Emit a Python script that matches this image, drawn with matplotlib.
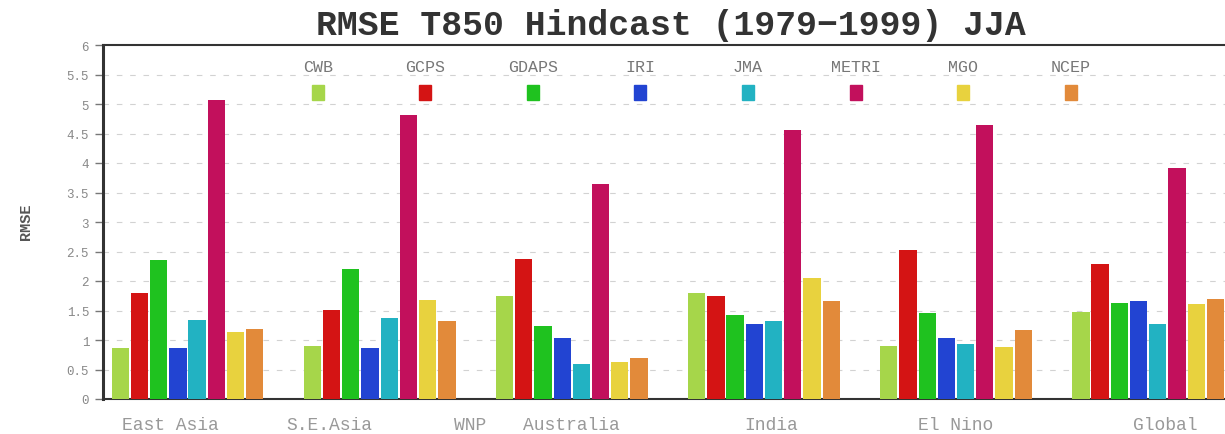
import matplotlib
matplotlib.use("Agg")
import matplotlib.pyplot as plt
import numpy as np

regions = ["East Asia", "S.E.Asia", "Australia", "India", "El Nino", "Global"]
xlabels = ["East Asia", "S.E.Asia", "WNP", "Australia", "India", "El Nino", "Global"]
models = ["CWB", "GCPS", "GDAPS", "IRI", "JMA", "METRI", "MGO", "NCEP"]

CWB   = [0.86, 0.89, 1.75, 1.79, 0.89, 1.48]
GCPS  = [1.80, 1.51, 2.37, 1.74, 2.53, 2.29]
GDAPS = [2.36, 2.20, 1.23, 1.42, 1.46, 1.63]
IRI   = [0.86, 0.86, 1.03, 1.27, 1.03, 1.66]
JMA   = [1.34, 1.38, 0.59, 1.32, 0.93, 1.27]
METRI = [5.07, 4.81, 3.64, 4.56, 4.64, 3.92]
MGO   = [1.13, 1.68, 0.63, 2.05, 0.88, 1.61]
NCEP  = [1.19, 1.33, 0.69, 1.66, 1.17, 1.69]
series = [CWB, GCPS, GDAPS, IRI, JMA, METRI, MGO, NCEP]

colors = ["#a6d64a", "#d41414", "#1fc21f", "#2244d2", "#22b2c2",
          "#c2105c", "#e8d23e", "#e28a3a"]

# layout (label positions in slot units)
xlabel_pos = [2.6, 10.9, 18.2, 23.5, 33.9, 43.5, 54.4]
slots_per_group = 10
MONO = "Liberation Mono"

fig = plt.figure(figsize=(12.25, 4.35), dpi=100)
ax = fig.add_axes([103/1225, 35/435, 1 - 103/1225, (400-46)/435])

for s, (vals, col) in enumerate(zip(series, colors)):
    x = np.arange(len(regions)) * slots_per_group + s
    ax.bar(x, vals, width=0.9, color=col, zorder=3)

ax.set_xlim(-0.9, 57.5)
ax.set_ylim(0, 6)
yt = np.arange(0, 6.01, 0.5)
ax.set_yticks(yt)
ax.set_yticklabels(["%g" % v for v in yt], fontsize=9, color="#888888",
                   family=MONO)
ax.tick_params(axis="y", length=6, width=1, color="#777777", pad=4)
for v in yt[1:-1]:
    ax.axhline(v, color="#d2d2d2", lw=0.8, ls=(0, (5, 7)), zorder=1)

ax.set_xticks(xlabel_pos)
ax.set_xticklabels(xlabels, fontsize=13, color="#999999", family=MONO)
ax.tick_params(axis="x", length=0, pad=12)

for sp in ["left", "bottom", "top"]:
    ax.spines[sp].set_color("#333333")
ax.spines["left"].set_linewidth(2.2)
ax.spines["bottom"].set_linewidth(1.5)
ax.spines["top"].set_linewidth(1.5)
ax.spines["right"].set_visible(False)

fig.text(26/1225, 1 - 222/435, "RMSE", rotation=90, ha="center", va="center",
         fontsize=11, color="#555555", family=MONO, fontweight="bold")

# legend drawn as text + patches in axes fraction
leg_x0 = (318 - 103) / 1122
leg_dx = 107.5 / 1122
for i, (m, col) in enumerate(zip(models, colors)):
    xc = leg_x0 + i * leg_dx
    ax.text(xc, (400 - 67) / 354, m, transform=ax.transAxes, ha="center",
            va="center", fontsize=12, color="#777777", family=MONO)
    ax.add_patch(plt.Rectangle((xc - 6/1122, (400 - 101) / 354), 12/1122, 15/354,
                               transform=ax.transAxes, color=col, zorder=4,
                               clip_on=False))

fig.text(671/1225, 1 - 26/435, "RMSE T850 Hindcast (1979\u22121999) JJA",
         ha="center", va="center", fontsize=25, color="#333333",
         family=MONO, fontweight="bold")

fig.savefig("out.png", dpi=100)
